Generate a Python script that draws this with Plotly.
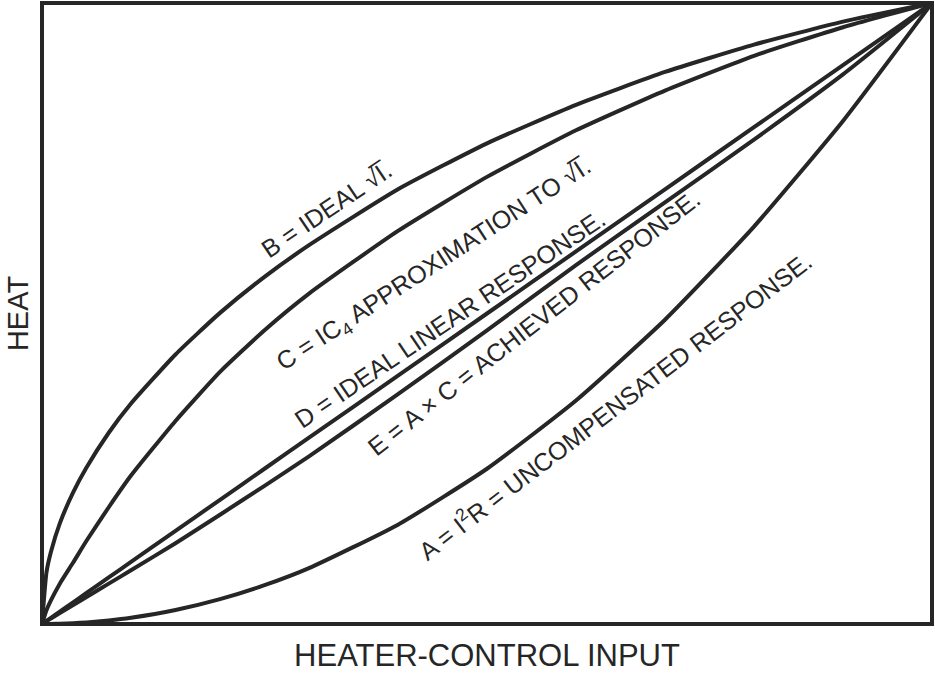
import plotly.graph_objects as go

# Heater-control input (normalised 0..1)
x_input = [0, 0.005, 0.01, 0.02, 0.035, 0.05, 0.075, 0.1, 0.15, 0.2, 0.25, 0.3,
           0.4, 0.5, 0.6, 0.7, 0.8, 0.9, 1.0]

# Curves (normalised heat)
b_ideal_sqrt = [0, 0.083, 0.116, 0.162, 0.212, 0.252, 0.308, 0.355, 0.434, 0.501, 0.559, 0.610,
                0.700, 0.774, 0.836, 0.889, 0.933, 0.970, 1.0]
c_ic4_approx = [0, 0.022, 0.038, 0.065, 0.099, 0.134, 0.188, 0.239, 0.327, 0.406, 0.473, 0.532,
                0.633, 0.720, 0.795, 0.859, 0.915, 0.961, 1.0]
d_ideal_linear = [0, 0.005, 0.01, 0.02, 0.035, 0.05, 0.075, 0.1, 0.15, 0.2, 0.25, 0.3,
                  0.4, 0.5, 0.6, 0.7, 0.8, 0.9, 1.0]
e_achieved = [0, 0.0045, 0.0088, 0.0175, 0.0305, 0.0435, 0.065, 0.0865, 0.130, 0.176, 0.2225, 0.270,
              0.370, 0.473, 0.578, 0.679, 0.780, 0.885, 1.0]
a_uncompensated = [0, 0.000025, 0.0001, 0.0004, 0.0012, 0.0025, 0.0056, 0.01, 0.0225, 0.04, 0.0625, 0.09,
                   0.16, 0.25, 0.36, 0.49, 0.64, 0.81, 1.0]

series = [b_ideal_sqrt, c_ic4_approx, d_ideal_linear, e_achieved, a_uncompensated]

labels = [
    "B = IDEAL √I\u0305.",
    "C = IC<sub>4</sub> APPROXIMATION TO √I\u0305.",
    "D = IDEAL LINEAR RESPONSE.",
    "E = A × C = ACHIEVED RESPONSE.",
    "A = I<sup>2</sup>R = UNCOMPENSATED RESPONSE.",
]
# label centre positions (data units) and angles
label_x = [0.320, 0.441, 0.458, 0.552, 0.643]
label_y = [0.668, 0.578, 0.491, 0.485, 0.352]
label_angle = [-34, -33, -34, -38, -37.5]

INK = "#262626"
FONT = "Liberation Sans, Arial, sans-serif"
W, H = 935, 673
L, R, T, B = 42, 3, 3, 49

fig = go.Figure()
for ys in series:
    fig.add_trace(go.Scatter(
        x=x_input, y=ys, mode="lines",
        line=dict(color=INK, width=4, shape="spline", smoothing=0.5),
        hoverinfo="skip", showlegend=False, cliponaxis=True,
    ))

for txt, lx, ly, ang in zip(labels, label_x, label_y, label_angle):
    fig.add_annotation(
        x=lx, y=ly, xref="x", yref="y", text=txt, showarrow=False,
        textangle=ang, xanchor="center", yanchor="middle",
        font=dict(family=FONT, size=25, color=INK),
    )

fig.add_shape(type="rect", xref="paper", yref="paper", x0=0, y0=0, x1=1, y1=1,
              line=dict(color=INK, width=4), layer="above")

fig.update_layout(
    width=W, height=H,
    margin=dict(l=L, r=R, t=T, b=B, pad=0),
    paper_bgcolor="white", plot_bgcolor="white",
    showlegend=False,
    xaxis=dict(range=[0, 1], showgrid=False, zeroline=False, showticklabels=False,
               ticks="", showline=False, fixedrange=True,
               title=dict(text="HEATER-CONTROL INPUT", standoff=20,
                          font=dict(family=FONT, size=31, color=INK))),
    yaxis=dict(range=[0, 1], showgrid=False, zeroline=False, showticklabels=False,
               ticks="", showline=False, fixedrange=True,
               title=dict(text="HEAT", standoff=3,
                          font=dict(family=FONT, size=29, color=INK))),
)

fig.write_html(
    "out.html",
    config={"displayModeBar": False},
    post_script="document.body.style.margin='0';document.body.style.overflow='hidden';",
)
